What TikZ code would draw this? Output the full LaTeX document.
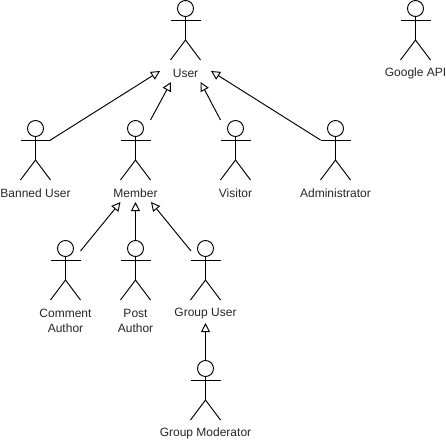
\documentclass[tikz,border=0pt]{standalone}
\usepackage{fontspec}
\setmainfont{Liberation Sans}
\usetikzlibrary{arrows.meta}
\tikzset{
  limb/.style={draw=black,line width=0.95pt},
  headnode/.style={circle,draw=black,line width=0.95pt,fill=white,minimum size=16pt,inner sep=0pt,outer sep=0pt},
  caption/.style={font=\fontsize{12}{15}\selectfont,text=black!85,inner sep=0pt,align=center},
  gener/.style={draw=black,line width=0.95pt,-{Triangle[open,fill=white,length=9pt,width=9pt]},shorten >=0pt}
}
% #1 name, #2 centre x, #3 top y, #4 caption y, #5 caption
\newcommand{\stickman}[5]{
  \node[headnode] (#1) at (#2,#3+8.5) {};
  \coordinate (#1-n) at (#2,#3);
  \coordinate (#1-neck) at (#1.south);
  \coordinate (#1-ne) at (#2+15,#3);
  \coordinate (#1-nw) at (#2-15,#3);
  \coordinate (#1-al) at (#2-15,#3+20);
  \coordinate (#1-ar) at (#2+15,#3+20);
  \coordinate (#1-hip) at (#2,#3+40);
  \coordinate (#1-fl) at (#2-15,#3+60);
  \coordinate (#1-fr) at (#2+15,#3+60);
  \draw[limb] (#1-neck) -- (#1-hip);
  \draw[limb] (#1-al) -- (#1-ar);
  \draw[limb] (#1-fl) -- (#1-hip) -- (#1-fr);
  \node[caption] (#1-t) at (#2,#4) {#5};
}
\begin{document}
\begin{tikzpicture}[x=1pt,y=-1pt]
\useasboundingbox (0,0) rectangle (446,442);
\stickman{user}{185.5}{0}{73.5}{User}
\stickman{gapi}{415.5}{0}{73.5}{Google API}
\stickman{ban}{35.5}{120}{193.5}{Banned User}
\stickman{mem}{135.5}{120}{193.5}{Member}
\stickman{vis}{235.5}{120}{193.5}{Visitor}
\stickman{adm}{335.5}{120}{193.5}{Administrator}
\stickman{com}{65.5}{240}{320.5}{Comment\\Author}
\stickman{pos}{135.5}{240}{320.5}{Post\\Author}
\stickman{gru}{205.5}{240}{313.5}{Group User}
\stickman{mod}{205.5}{360}{433.5}{Group Moderator}
\coordinate (tipban) at (160,71);
\coordinate (tipmem) at (171,82);
\coordinate (tipvis) at (200.5,82);
\coordinate (tipadm) at (211,71);
\coordinate (tipcom) at (120.5,202);
\coordinate (tippos) at (135.5,202);
\coordinate (tipgru) at (151,202);
\coordinate (tipmod) at (205.5,323);
\coordinate (srccom) at (80.5,251);
\coordinate (srcgru) at (191,251);
\draw[gener] (ban-ar) -- (tipban);
\draw[gener] (mem-ne) -- (tipmem);
\draw[gener] (vis-nw) -- (tipvis);
\draw[gener] (adm-al) -- (tipadm);
\draw[gener] (srccom) -- (tipcom);
\draw[gener] (pos-n) -- (tippos);
\draw[gener] (srcgru) -- (tipgru);
\draw[gener] (mod-n) -- (tipmod);
\end{tikzpicture}
\end{document}
